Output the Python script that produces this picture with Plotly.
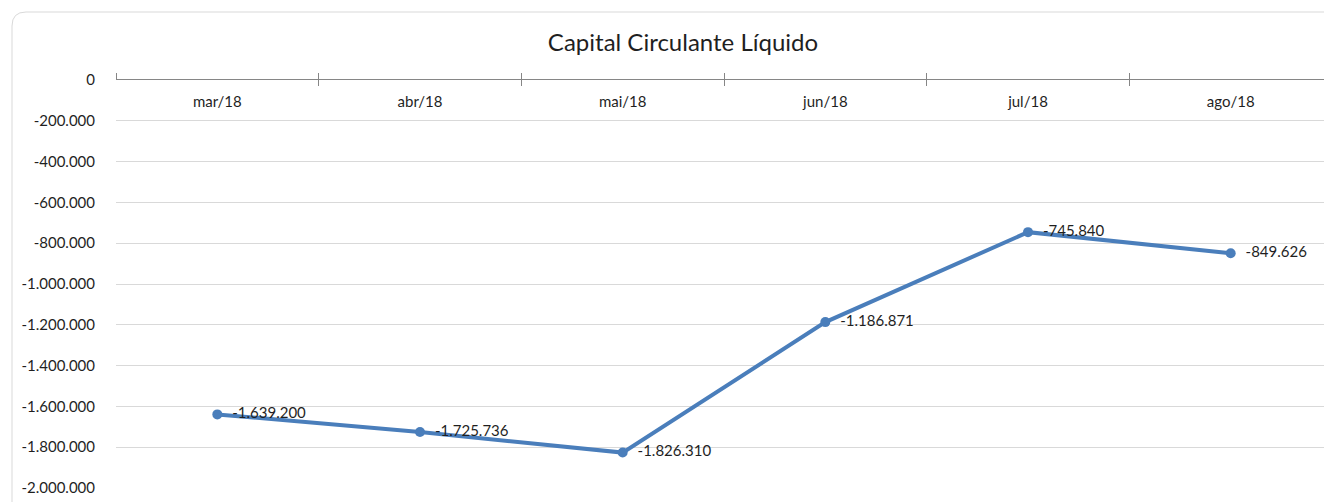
import plotly.graph_objects as go

# data
months = ['mar/18', 'abr/18', 'mai/18', 'jun/18', 'jul/18', 'ago/18']
ccl = [-1639200, -1725736, -1826310, -1186871, -745840, -849626]
y_ticks = [0, -200000, -400000, -600000, -800000, -1000000,
           -1200000, -1400000, -1600000, -1800000, -2000000]


def br(v):
    # brazilian thousands separator
    return '{:,}'.format(v).replace(',', '.')


FONT = 'Lato'
TXT = '#1F1F1F'
W, H = 1332, 502
OFF = 8  # page body margin
L, R, T, B = 116 - OFF, OFF, 80 - OFF, 14 + OFF
pw = W - L - R
ph = H - T - B

fig = go.Figure()
fig.add_trace(go.Scatter(
    x=months, y=ccl,
    mode='lines+markers+text',
    line=dict(color='#4A7EBB', width=4),
    marker=dict(size=10, color='#4A7EBB'),
    text=['  ' + br(v) for v in ccl],
    textposition='middle right',
    textfont=dict(family=FONT, size=15, color=TXT),
    cliponaxis=False,
    showlegend=False,
))
# dummy traces so the extra x axes exist
for ax in ['x2', 'x3']:
    fig.add_trace(go.Scatter(x=months, y=[None] * len(months), xaxis=ax,
                             showlegend=False, hoverinfo='skip'))

tick_common = dict(type='category', range=[-0.5, 5.5], automargin=False,
                   showgrid=False, zeroline=False)
fig.update_layout(
    width=W, height=H,
    margin=dict(l=L, r=R, t=T, b=B, autoexpand=False),
    paper_bgcolor='white', plot_bgcolor='white',
    font=dict(family=FONT, color=TXT),
    xaxis=dict(
        **tick_common, side='top',
        showline=True, linecolor='#868686', linewidth=1,
        ticks='outside', ticklen=6, tickcolor='#868686', tickson='boundaries',
        showticklabels=False,
    ),
    xaxis2=dict(
        **tick_common, overlaying='x', side='top',
        ticks='inside', ticklen=6, tickcolor='#868686', tickson='boundaries',
        showticklabels=False, showline=False,
    ),
    xaxis3=dict(
        **tick_common, overlaying='x', side='bottom', anchor='free',
        position=1 - 11 / ph, ticks='', showline=False,
        tickfont=dict(family=FONT, size=15, color=TXT),
    ),
    yaxis=dict(
        range=[-2000000, 0], automargin=False,
        tickvals=y_ticks, ticktext=[br(v) for v in y_ticks],
        showgrid=True, gridcolor='#D9D9D9', gridwidth=1,
        zeroline=False, showline=False, ticks='',
        ticklabelstandoff=20,
        tickfont=dict(family=FONT, size=15, color=TXT),
    ),
    title=dict(text='Capital Circulante Líquido',
               x=(683 - OFF) / W, xanchor='center', y=1 - (43 - OFF) / H,
               yanchor='middle',
               font=dict(family=FONT, size=24, color=TXT)),
)

# rounded chart border (Excel chart area)
x0 = (12 - 116) / pw
y0 = 1 + (80 - 12) / ph
rx = 14 / pw
ry = 14 / ph
fig.add_shape(type='path', xref='paper', yref='paper',
              path=f'M {x0} -1 L {x0} {y0 - ry} Q {x0} {y0} {x0 + rx} {y0} L 1.2 {y0}',
              line=dict(color='#D9D9D9', width=1), layer='below')

fig.write_html('out.html')
